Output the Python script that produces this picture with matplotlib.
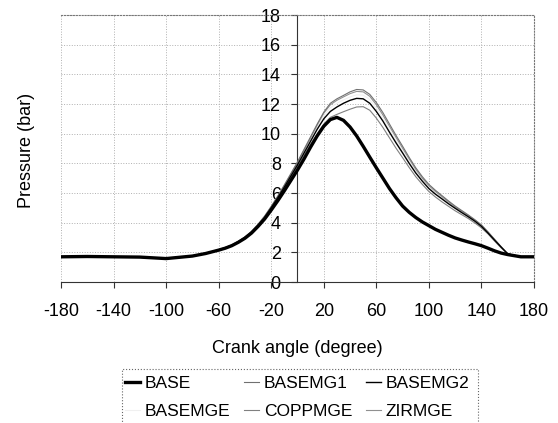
import matplotlib
matplotlib.use("Agg")
import matplotlib.pyplot as plt
from matplotlib.patches import Rectangle

plt.rcParams['font.family'] = ['Liberation Sans', 'DejaVu Sans']
plt.rcParams['axes.unicode_minus'] = False

# crank angle (degree)
angle = [-180, -160, -140, -120, -100, -80, -70,
         -60, -55, -50, -45, -40, -35, -30, -25, -20, -15, -10, -5, 0,
         5, 10, 15, 20, 25, 30, 35, 40, 45, 50, 55, 60,
         65, 70, 75, 80, 85, 90, 95, 100, 105, 110, 115, 120,
         125, 130, 135, 140, 145, 150, 155, 160,
         170, 180]

# pressure (bar) for each engine
base = [1.70, 1.72, 1.70, 1.68, 1.58, 1.75, 1.92,
        2.15, 2.28, 2.45, 2.68, 2.95, 3.30, 3.75, 4.25, 4.85, 5.48, 6.15, 6.85, 7.55,
        8.30, 9.10, 9.85, 10.50, 10.95, 11.10, 10.90, 10.45, 9.85, 9.15, 8.42, 7.70,
        7.00, 6.30, 5.68, 5.12, 4.70, 4.35, 4.05, 3.80, 3.55, 3.35, 3.15, 2.97,
        2.83, 2.70, 2.58, 2.45, 2.28, 2.10, 1.95, 1.85,
        1.70, 1.70]
basemg1 = [1.70, 1.70, 1.66, 1.66, 1.58, 1.76, 1.94,
           2.18, 2.33, 2.50, 2.75, 3.05, 3.42, 3.90, 4.45, 5.10, 5.80, 6.55, 7.32, 8.10,
           8.95, 9.80, 10.65, 11.45, 12.05, 12.35, 12.58, 12.82, 12.98, 12.95, 12.65, 12.10,
           11.42, 10.65, 9.88, 9.15, 8.40, 7.70, 7.10, 6.58, 6.18, 5.82, 5.46, 5.12,
           4.82, 4.52, 4.20, 3.85, 3.38, 2.88, 2.38, 1.90,
           1.70, 1.70]
basemg2 = [1.70, 1.71, 1.68, 1.67, 1.58, 1.75, 1.93,
           2.16, 2.30, 2.47, 2.71, 3.00, 3.36, 3.82, 4.35, 5.00, 5.68, 6.40, 7.15, 7.90,
           8.70, 9.50, 10.30, 11.00, 11.50, 11.80, 12.05, 12.25, 12.38, 12.35, 12.05, 11.50,
           10.85, 10.10, 9.38, 8.70, 8.00, 7.35, 6.80, 6.30, 5.92, 5.60, 5.27, 4.97,
           4.68, 4.40, 4.10, 3.75, 3.30, 2.82, 2.35, 1.90,
           1.70, 1.70]
basemge = [1.70, 1.71, 1.68, 1.67, 1.58, 1.75, 1.93,
           2.16, 2.31, 2.48, 2.72, 3.02, 3.38, 3.85, 4.40, 5.05, 5.72, 6.45, 7.22, 8.00,
           8.80, 9.62, 10.45, 11.20, 11.75, 12.05, 12.28, 12.48, 12.62, 12.60, 12.30, 11.72,
           11.05, 10.30, 9.55, 8.85, 8.15, 7.48, 6.90, 6.40, 6.00, 5.68, 5.33, 5.02,
           4.72, 4.44, 4.13, 3.78, 3.33, 2.84, 2.36, 1.90,
           1.70, 1.70]
coppmge = [1.70, 1.71, 1.67, 1.67, 1.58, 1.75, 1.93,
           2.16, 2.29, 2.46, 2.70, 2.98, 3.33, 3.78, 4.30, 4.95, 5.60, 6.30, 7.05, 7.80,
           8.55, 9.30, 10.00, 10.65, 11.10, 11.30, 11.48, 11.65, 11.80, 11.82, 11.58, 11.05,
           10.42, 9.72, 9.02, 8.38, 7.72, 7.10, 6.58, 6.10, 5.73, 5.40, 5.10, 4.80,
           4.54, 4.28, 3.98, 3.65, 3.24, 2.76, 2.30, 1.90,
           1.70, 1.70]
zirmge = [1.70, 1.70, 1.66, 1.66, 1.58, 1.76, 1.94,
          2.17, 2.32, 2.49, 2.74, 3.03, 3.40, 3.88, 4.42, 5.07, 5.76, 6.50, 7.27, 8.05,
          8.88, 9.72, 10.58, 11.38, 11.95, 12.25, 12.48, 12.70, 12.85, 12.82, 12.52, 11.95,
          11.26, 10.50, 9.75, 9.02, 8.30, 7.60, 7.00, 6.50, 6.10, 5.75, 5.40, 5.06,
          4.77, 4.48, 4.16, 3.82, 3.36, 2.86, 2.37, 1.90,
          1.70, 1.70]

xticks = [-180, -140, -100, -60, -20, 20, 60, 100, 140, 180]
yticks = [0, 2, 4, 6, 8, 10, 12, 14, 16, 18]

for series in [base, basemg1, basemg2, basemge, coppmge, zirmge]:
    assert len(series) == len(angle)

W, H = 558, 423
fig = plt.figure(figsize=(W / 100, H / 100), dpi=100)
ax = fig.add_axes([0.1093, 0.3333, 0.8477, 0.6312])

l_mge, = ax.plot(angle, basemge, color="#f0f0f0", lw=0.8, zorder=2)
l_copp, = ax.plot(angle, coppmge, color="#808080", lw=0.8, zorder=3)
l_zir, = ax.plot(angle, zirmge, color="#909090", lw=0.8, zorder=3)
l_mg1, = ax.plot(angle, basemg1, color="#707070", lw=0.8, zorder=3)
l_mg2, = ax.plot(angle, basemg2, color="black", lw=1.0, zorder=4)
l_base, = ax.plot(angle, base, color="black", lw=2.4, zorder=5)

ax.set_xlim(-180, 180)
ax.set_ylim(0, 18)
ax.set_xticks(xticks)
ax.set_yticks(yticks)
ax.grid(True, color="#b0b0b0", linestyle=":", linewidth=0.7)

ax.spines['left'].set_position(('data', 0))
ax.spines['left'].set_color("#333333")
ax.spines['bottom'].set_color("#333333")
for s in ['top', 'right']:
    ax.spines[s].set_color("#777777")
    ax.spines[s].set_linestyle(":")
    ax.spines[s].set_linewidth(0.8)

ax.tick_params(axis='x', direction='out', length=4, pad=11, labelsize=13, color="#333333")
ax.tick_params(axis='y', direction='out', length=4, pad=8, labelsize=13, color="#333333")

fig.text(0.047, 0.645, "Pressure (bar)", rotation=90, ha='center', va='center', fontsize=13)
fig.text(0.532, 0.177, "Crank angle (degree)", ha='center', va='center', fontsize=13)

handles = [l_base, l_mge, l_mg1, l_copp, l_mg2, l_zir]
labels = ["BASE", "BASEMGE", "BASEMG1", "COPPMGE", "BASEMG2", "ZIRMGE"]
leg = fig.legend(handles, labels, ncol=3, loc='upper left',
                 bbox_to_anchor=(125 / W, 1 - 376 / H), bbox_transform=fig.transFigure,
                 fontsize=12.5, frameon=False, handlelength=0.85,
                 handletextpad=0.28, columnspacing=0.8, labelspacing=0.72, borderpad=0,
                 borderaxespad=0)

# legend box, open at the bottom edge of the image
fig.patches.append(Rectangle((122 / W, -0.02), (478 - 122) / W, 0.02 + (H - 369) / H,
                             transform=fig.transFigure, fill=False, edgecolor="#666666",
                             linestyle=":", linewidth=0.8))

fig.savefig("out.png", dpi=100)
